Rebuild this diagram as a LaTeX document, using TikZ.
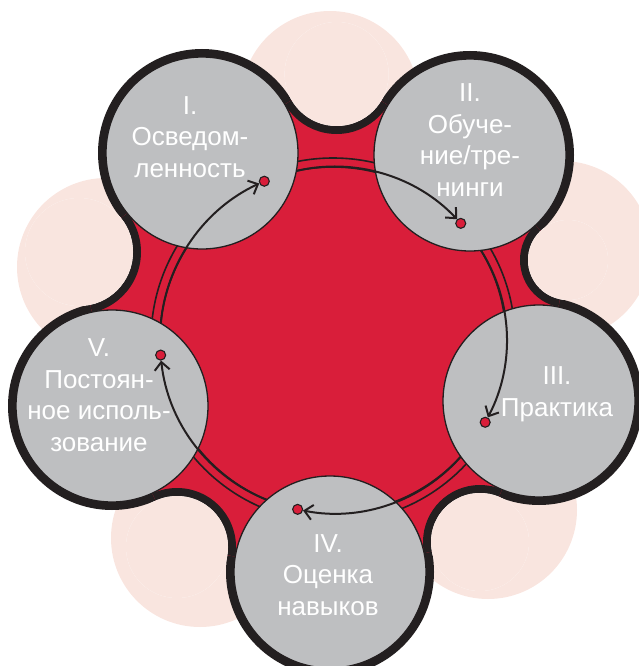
\documentclass[tikz,border=0pt]{standalone}
\usepackage{fontspec}
\setmainfont{Liberation Sans}
\usetikzlibrary{arrows.meta, calc}
\definecolor{blobred}{RGB}{217,30,58}
\definecolor{stagegrey}{RGB}{190,191,193}
\definecolor{inkblack}{RGB}{35,31,32}
\definecolor{palepink}{RGB}{249,229,223}
\tikzset{
  stage/.style={circle, draw=inkblack, fill=stagegrey, line width=1.3pt,
                minimum size=192pt, inner sep=0pt},
  stagetxt/.style={text=white, align=center, inner sep=0pt,
                   font=\fontsize{26}{31.5}\selectfont},
  dot/.style={circle, draw=inkblack, fill=blobred, line width=1.1pt,
              minimum size=10pt, inner sep=0pt},
  arr/.style={-{Straight Barb[length=8pt, width=15pt]}, line width=2pt,
              draw=inkblack},
}

\begin{document}
\begin{tikzpicture}[x=1pt, y=-1pt]
  \useasboundingbox (0,0) rectangle (638,666);

  % circle centres, neck centres, ring centre
  \coordinate (c1) at (202,153);
  \coordinate (c2) at (470,155);
  \coordinate (c3) at (539,401);
  \coordinate (c4) at (330,572);
  \coordinate (c5) at (112,406);
  \coordinate (f12) at (336.6,74);
  \coordinate (f23) at (568,260);
  \coordinate (f34) at (480,542);
  \coordinate (f45) at (177,547);
  \coordinate (f51) at (79,252);
  \coordinate (ctr) at (333,340);

  % pale circles behind
  \foreach \x/\y in {330/100, 106/267, 562/250, 488/510, 200/538}
    \fill[palepink] (\x,\y) circle[radius=89pt];

  % blob: outline, then red inside
  \fill[inkblack] (c1) -- (f12) -- (c2) -- (f23) -- (c3) -- (f34)
    -- (c4) -- (f45) -- (c5) -- (f51) -- cycle;
  \foreach \c in {c1,c2,c3,c4,c5}
    \fill[inkblack] (\c) circle[radius=104pt];
  \fill[blobred] (c1) -- (f12) -- (c2) -- (f23) -- (c3) -- (f34)
    -- (c4) -- (f45) -- (c5) -- (f51) -- cycle;
  \begin{scope}
    \clip (c1) -- (f12) -- (c2) -- (f23) -- (c3) -- (f34)
      -- (c4) -- (f45) -- (c5) -- (f51) -- cycle;
    \fill[inkblack] (f12) circle[radius=60pt] (f23) circle[radius=48pt]
      (f34) circle[radius=57pt] (f45) circle[radius=59pt]
      (f51) circle[radius=62pt];
  \end{scope}
  \begin{scope}
    \clip (f12) circle[radius=52pt] (f23) circle[radius=40pt]
      (f34) circle[radius=49pt] (f45) circle[radius=51pt]
      (f51) circle[radius=54pt];
    \fill[white] (0,0) rectangle (638,666);
    \foreach \x/\y in {330/100, 106/267, 562/250, 488/510, 200/538}
      \fill[palepink] (\x,\y) circle[radius=89pt];
  \end{scope}

  % double ring
  \draw[inkblack, line width=1.6pt] (ctr) circle[radius=182pt]
    (ctr) circle[radius=173pt];

  % stages
  \node[stage] (s1) at (c1) {};
  \node[stage] (s2) at (c2) {};
  \node[stage] (s3) at (c3) {};
  \node[stage] (s4) at (c4) {};
  \node[stage] (s5) at (c5) {};

  \node[stagetxt] (t1) at (190,137) {I.\\Осведом-\\ленность};
  \node[stagetxt] (t2) at (470,140) {II.\\Обуче-\\ние/тре-\\нинги};
  \node[stagetxt] (t3) at (557,394) {III.\\Практика};
  \node[stagetxt] (t4) at (328,575) {IV.\\Оценка\\навыков};
  \node[stagetxt] (t5) at (99,395) {V.\\Постоян-\\ное исполь-\\зование};

  % dots and exits on the inner ring
  \node[dot] (d1) at ($(ctr)+(113.4:173pt)$) {};
  \node[dot] (d2) at ($(ctr)+(42.4:173pt)$) {};
  \node[dot] (d3) at ($(ctr)+(-28.4:173pt)$) {};
  \node[dot] (d4) at ($(ctr)+(-101.8:173pt)$) {};
  \node[dot] (d5) at ($(ctr)+(185:173pt)$) {};
  \coordinate (e1) at ($(ctr)+(102.2:173pt)$);
  \coordinate (e2) at ($(ctr)+(31.2:173pt)$);
  \coordinate (e3) at ($(ctr)+(-42.4:173pt)$);
  \coordinate (e4) at ($(ctr)+(-112.5:173pt)$);
  \coordinate (e5) at ($(ctr)+(174.4:173pt)$);

  \draw[arr] (e1) to[bend left=30, looseness=0.91] (d2);
  \draw[arr] (e2) to[bend left=30, looseness=0.91] (d3);
  \draw[arr] (e3) to[bend left=30, looseness=0.91] (d4);
  \draw[arr] (e4) to[bend left=31, looseness=0.92] (d5);
  \draw[arr] (e5) to[bend left=30, looseness=0.91] (d1);
\end{tikzpicture}
\end{document}
